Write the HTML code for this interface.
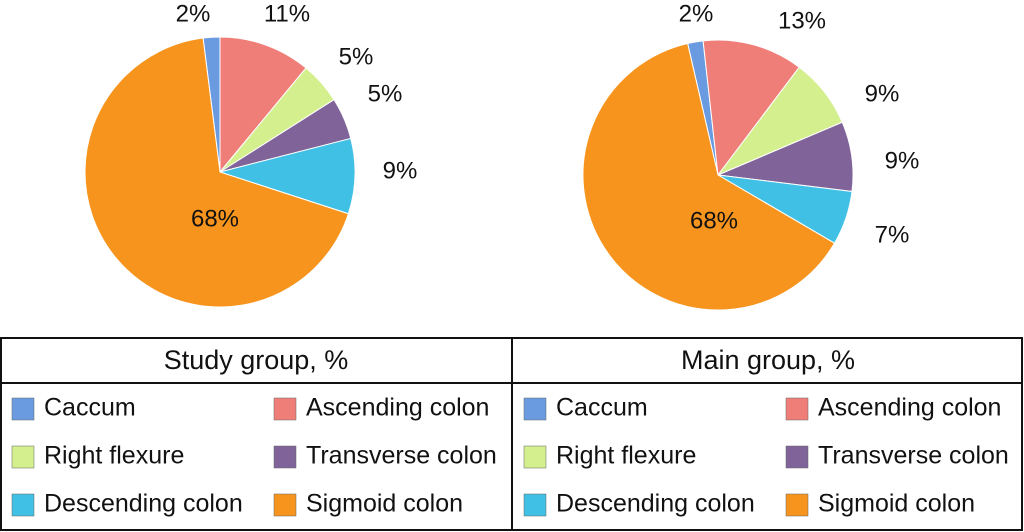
<!DOCTYPE html>
<html><head><meta charset="utf-8">
<style>
body{margin:0;width:1024px;height:532px;background:#fff;font-family:"Liberation Sans",sans-serif;overflow:hidden}
svg{position:absolute;left:0;top:0}
</style></head>
<body>
<svg id="chart" width="1024" height="532"></svg>
<script>
const categories=["Caccum","Ascending colon","Right flexure","Transverse colon","Descending colon","Sigmoid colon"];
const colors=["#6a9be0","#f07e78","#d4ef8e","#7f6399","#41c0e6","#f7941d"];
const studyValues=[2,11,5,5,9,68];
const mainValues=[2,13,9,9,7,68];
const studyLabelPos=[[193,15],[287,15],[356,58],[385,95],[400,172],[215,220]];
const mainLabelPos=[[696,15],[802,22],[882,95],[902,162],[892,236],[714,222]];
const svg=document.getElementById('chart');
const NS="http://www.w3.org/2000/svg";
function mk(t,a){const e=document.createElementNS(NS,t);for(const k in a)e.setAttribute(k,a[k]);svg.appendChild(e);return e;}
function pie(vals,cx,cy,r,startDeg,labels,name){
  const tot=vals.reduce((a,b)=>a+b,0);
  let a=startDeg*Math.PI/180;
  vals.forEach((v,i)=>{
    const a2=a+v/tot*2*Math.PI;
    const x1=cx+r*Math.sin(a),y1=cy-r*Math.cos(a),x2=cx+r*Math.sin(a2),y2=cy-r*Math.cos(a2);
    const p=mk('path',{d:`M${cx},${cy}L${x1},${y1}A${r},${r} 0 ${a2-a>Math.PI?1:0} 1 ${x2},${y2}Z`,fill:colors[i],stroke:'#fff','stroke-width':1});
    
    
    const t=mk('text',{x:labels[i][0],y:labels[i][1],'font-size':24,'text-anchor':'middle','dominant-baseline':'middle',fill:'#111'});
    t.textContent=v+'%';
    
    
    a=a2;
  });
}
pie(studyValues,220,172,135,-7.2,studyLabelPos,'study');
pie(mainValues,718,175,135,-13,mainLabelPos,'main');
mk('rect',{x:1,y:338,width:1021,height:192,fill:'none',stroke:'#111','stroke-width':2});
mk('line',{x1:512,y1:338,x2:512,y2:530,stroke:'#111','stroke-width':2});
mk('line',{x1:1,y1:383,x2:1022,y2:383,stroke:'#111','stroke-width':2});
[["Study group, %",256],["Main group, %",768]].forEach(([s,x],k)=>{
  const t=mk('text',{x:x,y:362,'font-size':27,'text-anchor':'middle','dominant-baseline':'middle',fill:'#111'});
  t.textContent=s;
  
  
});
[0,512].forEach(ox=>{
  categories.forEach((c,i)=>{
    const col=i%2,row=Math.floor(i/2);
    const x=ox+12+col*262,y=409+row*48;
    const r=mk('rect',{x:x,y:y-11,width:22,height:22,fill:colors[i],stroke:'#666','stroke-width':0.5});
    
    
    const t=mk('text',{x:x+32,y:y,'font-size':25,'dominant-baseline':'middle',fill:'#111'});
    t.textContent=c;
    
    
  });
});
</script>
</body></html>
